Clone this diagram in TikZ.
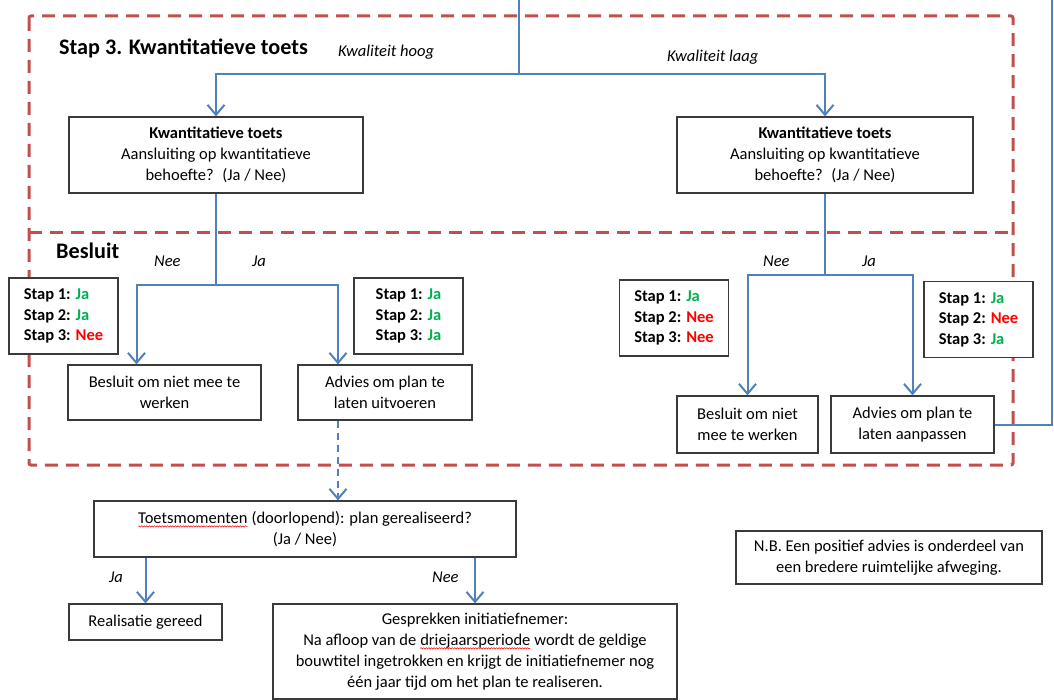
\documentclass[tikz,border=0pt]{standalone}
\usepackage{fontspec}
\setmainfont{Carlito}
\usetikzlibrary{arrows.meta,decorations.pathmorphing,calc}
\definecolor{flowblue}{HTML}{4F81BD}
\definecolor{zonered}{HTML}{C0504D}
\definecolor{okgreen}{HTML}{00B050}
\definecolor{nored}{HTML}{FF0000}
\definecolor{boxline}{HTML}{3A3A3A}
\newcommand\jaword{\textcolor{okgreen}{Ja}}
\newcommand\neeword{\textcolor{nored}{Nee}}
% red wavy underline under a word
\newcommand\squig[1]{\tikz[baseline=(sq.base)]{\node[draw=none,fill=none,minimum width=0pt,minimum height=0pt,inner sep=0pt,outer sep=0pt,anchor=base] (sq) at (0pt,0pt) {#1};\draw[nored,line width=0.5pt,decorate,decoration={snake,amplitude=0.7pt,segment length=2.6pt}] ([yshift=-3pt]sq.base west) -- ([yshift=-3pt]sq.base east);}}
\begin{document}
\begin{tikzpicture}[x=1pt,y=-1pt,
  box/.style={draw=boxline,line width=1.2pt,fill=white,align=center,inner sep=0pt,
    font=\fontsize{16.5}{21}\selectfont},
  stapbox/.style={draw=boxline,line width=1.2pt,fill=white,align=left,inner sep=0pt,
    minimum width=109pt,minimum height=76pt,font=\fontsize{16.5}{20.5}\selectfont\bfseries},
  line/.style={draw=flowblue,line width=2pt},
  flow/.style={line,-{Straight Barb[length=10pt,width=17pt]}},
  zone/.style={draw=zonered,line width=3pt,dash pattern=on 13pt off 8pt,rounded corners=2pt},
  head/.style={anchor=west,inner sep=0pt,font=\fontsize{22.2}{26}\selectfont\bfseries},
  lbl/.style={anchor=west,inner sep=0pt,font=\fontsize{16.5}{20}\selectfont\itshape}]
\useasboundingbox (0,0) rectangle (1054,700);

% dashed zones: step 3 and decision
\draw[zone] (29,16) rectangle (1013,465);
\draw[zone] (29,233) -- (1013,233);

\node[head] (h3) at (59,48) {Stap 3. Kwantitatieve toets};
\node[head] (hb) at (56,251) {Besluit};

% quantitative test boxes
\node[box,minimum width=294pt,minimum height=76pt] (k1) at (216,155)
  {\textbf{Kwantitatieve toets}\\Aansluiting op kwantitatieve\\behoefte?~ (Ja / Nee)};
\node[box,minimum width=296pt,minimum height=76pt] (k2) at (825,155)
  {\textbf{Kwantitatieve toets}\\Aansluiting op kwantitatieve\\behoefte?~ (Ja / Nee)};

% step summaries
\node[stapbox] (s1) at (63.5,316) {Stap 1: \jaword\\Stap 2: \jaword\\Stap 3: \neeword};
\node[stapbox] (s2) at (408.5,316) {Stap 1: \jaword\\Stap 2: \jaword\\Stap 3: \jaword};
\node[stapbox] (s3) at (674,318) {Stap 1: \jaword\\Stap 2: \neeword\\Stap 3: \neeword};
\node[stapbox] (s4) at (978.5,319.5) {Stap 1: \jaword\\Stap 2: \neeword\\Stap 3: \jaword};

% decisions
\node[box,minimum width=193pt,minimum height=55pt] (b1) at (164.5,392.5) {Besluit om niet mee te\\werken};
\node[box,minimum width=174pt,minimum height=55pt] (a1) at (385,392.5) {Advies om plan te\\laten uitvoeren};
\node[box,minimum width=141pt,minimum height=57pt] (b2) at (747.5,424.5) {Besluit om niet\\mee te werken};
\node[box,minimum width=163pt,minimum height=57pt] (a2) at (912.5,424.5) {Advies om plan te\\laten aanpassen};

% monitoring
\node[box,minimum width=422pt,minimum height=56pt] (t1) at (305,529)
  {\squig{Toetsmomenten} (doorlopend): plan gerealiseerd?\\(Ja / Nee)};
\node[box,minimum width=153pt,minimum height=36pt] (r1) at (145.5,622) {Realisatie gereed};
\node[box,minimum width=404pt,minimum height=95pt] (g1) at (475,651.5)
  {Gesprekken initiatiefnemer:\\Na afloop van de \squig{driejaarsperiode} wordt de geldige\\bouwtitel ingetrokken en krijgt de initiatiefnemer nog\\één jaar tijd om het plan te realiseren.};
\node[box,minimum width=306pt,minimum height=53pt] (nb) at (889,557.5)
  {N.B. Een positief advies is onderdeel van\\een bredere ruimtelijke afweging.};

% branch labels
\node[lbl] (lh) at (338,52) {Kwaliteit hoog};
\node[lbl] (ll) at (667,57) {Kwaliteit laag};
\node[lbl] (n1) at (154,261) {Nee};
\node[lbl] (j1l) at (252,261) {Ja};
\node[lbl] (n2) at (763,261) {Nee};
\node[lbl] (j2l) at (862,261) {Ja};
\node[lbl] (j3l) at (109,577) {Ja};
\node[lbl] (n3l) at (432,577) {Nee};

% connectors
\coordinate (top) at (519,0);
\coordinate (split) at (519,74);
\draw[line] (top) -- (split);
\draw[flow] (split) -| (k1.north);
\draw[flow] (split) -| (k2.north);

\coordinate (j1) at (k1.south |- 0,285);
\draw[line] (k1.south) -- (j1);
\draw[flow] (j1) -| ([xshift=-28pt]b1.north);
\draw[flow] (j1) -| ([xshift=-47pt]a1.north);

\coordinate (j2) at (k2.south |- 0,275);
\draw[line] (k2.south) -- (j2);
\draw[flow] (j2) -| (b2.north);
\draw[flow] (j2) -| (a2.north);

\coordinate (fb) at (1052,0);
\draw[line] (a2.east) -| (fb);

\draw[flow,dash pattern=on 7pt off 5pt] ([xshift=-47pt]a1.south) -- ([xshift=-47pt]a1.south |- t1.north);
\draw[flow] (r1.north |- t1.south) -- (r1.north);
\draw[flow] (g1.north |- t1.south) -- (g1.north);
\end{tikzpicture}
\end{document}
